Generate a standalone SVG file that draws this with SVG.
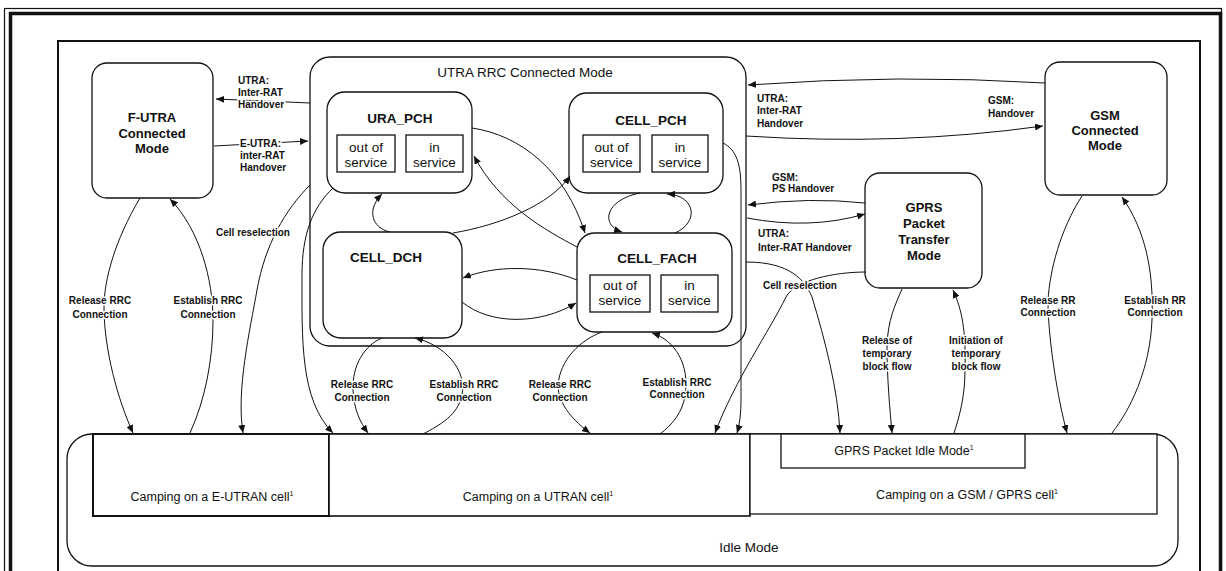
<svg xmlns="http://www.w3.org/2000/svg" width="1226" height="571" viewBox="0 0 1226 571">
<defs>
<marker id="arr" markerUnits="userSpaceOnUse" markerWidth="9" markerHeight="7" refX="8" refY="3.5" orient="auto"><path d="M0,0 L8,3.5 L0,7 z" fill="#111"/></marker>
<style>
text{font-family:"Liberation Sans",Arial,sans-serif;fill:#111}
.box{fill:#fff;stroke:#111;stroke-width:1.3}
.sub{fill:#fff;stroke:#111;stroke-width:1.3}
.ttl{font-size:13.5px;font-weight:bold;text-anchor:middle}
.big{font-size:13px;font-weight:bold;text-anchor:middle}
.reg{font-size:13.5px;text-anchor:middle}
.cmp{font-size:12.5px;text-anchor:middle}
.lbl{font-size:10px;font-weight:bold;stroke:#fff;stroke-width:3;paint-order:stroke;stroke-linejoin:round}
.c{text-anchor:middle}
.con path{fill:none;stroke:#111;stroke-width:1;marker-end:url(#arr)}
.sup{font-size:7px}
</style>
</defs>
<rect width="1226" height="571" fill="#fff"/>
<g id="frame" fill="none" stroke="#111">
<rect x="4.5" y="8.5" width="1217" height="620" stroke-width="1.2"/>
<rect x="10.5" y="13.5" width="1210" height="620" stroke-width="3.5"/>
<rect x="58" y="41" width="1142" height="620" stroke-width="2"/>
</g>
<g id="idle">
<rect class="box" x="67" y="434" width="1111" height="132" rx="25"/>
<text class="reg" x="749" y="552">Idle Mode</text>
</g>
<g id="camp-eutran">
<rect class="box" x="93" y="434" width="236" height="82" style="stroke-width:2"/>
<text class="cmp" x="212" y="501">Camping on a E-UTRAN cell<tspan class="sup" dy="-5">1</tspan></text>
</g>
<g id="camp-utran">
<rect class="box" x="329" y="434" width="421" height="82" style="stroke-width:1.6"/>
<text class="cmp" x="538" y="501">Camping on a UTRAN cell<tspan class="sup" dy="-5">1</tspan></text>
</g>
<g id="camp-gsm">
<rect class="box" x="750" y="434" width="407" height="80"/>
<text class="cmp" x="967" y="499">Camping on a GSM / GPRS cell<tspan class="sup" dy="-5">1</tspan></text>
</g>
<g id="gprs-idle">
<rect class="box" x="781" y="434" width="244" height="34"/>
<text class="cmp" x="904" y="455">GPRS Packet Idle Mode<tspan class="sup" dy="-5">1</tspan></text>
</g>
<g id="utra-rrc">
<rect class="box" x="310" y="57" width="436" height="289" rx="20"/>
<text class="reg" x="525" y="77">UTRA RRC Connected Mode</text>
</g>
<g id="ura-pch">
<rect class="box" x="327" y="92" width="145" height="101" rx="18"/>
<text class="ttl" x="400" y="123">URA_PCH</text>
<rect class="sub" x="337" y="135" width="58" height="37"/>
<rect class="sub" x="406" y="135" width="57" height="37"/>
<text class="reg" x="366" y="152">out of</text><text class="reg" x="366" y="167">service</text>
<text class="reg" x="434.5" y="152">in</text><text class="reg" x="434.5" y="167">service</text>
</g>
<g id="cell-pch">
<rect class="box" x="569" y="93" width="154" height="100" rx="18"/>
<text class="ttl" x="651" y="125">CELL_PCH</text>
<rect class="sub" x="583" y="135" width="57" height="37"/>
<rect class="sub" x="652" y="135" width="56" height="37"/>
<text class="reg" x="611.5" y="152">out of</text><text class="reg" x="611.5" y="167">service</text>
<text class="reg" x="680" y="152">in</text><text class="reg" x="680" y="167">service</text>
</g>
<g id="cell-dch">
<rect class="box" x="323" y="232" width="139" height="106" rx="18"/>
<text class="ttl" x="386" y="262">CELL_DCH</text>
</g>
<g id="cell-fach">
<rect class="box" x="577" y="233" width="155" height="99" rx="18"/>
<text class="ttl" x="657" y="263">CELL_FACH</text>
<rect class="sub" x="590" y="275" width="60" height="37"/>
<rect class="sub" x="661" y="275" width="57" height="37"/>
<text class="reg" x="620" y="290">out of</text><text class="reg" x="620" y="305">service</text>
<text class="reg" x="689.5" y="290">in</text><text class="reg" x="689.5" y="305">service</text>
</g>
<g id="eutra">
<rect class="box" x="92" y="63" width="121" height="135" rx="15"/>
<text class="big" x="152" y="122">F-UTRA</text>
<text class="big" x="152" y="138">Connected</text>
<text class="big" x="152" y="153">Mode</text>
</g>
<g id="gsm">
<rect class="box" x="1045" y="62" width="122" height="133" rx="15"/>
<text class="big" x="1105" y="120">GSM</text>
<text class="big" x="1105" y="135">Connected</text>
<text class="big" x="1105" y="150">Mode</text>
</g>
<g id="gprs">
<rect class="box" x="865" y="173" width="117" height="115" rx="15"/>
<text class="big" x="924" y="212">GPRS</text>
<text class="big" x="924" y="228">Packet</text>
<text class="big" x="924" y="244">Transfer</text>
<text class="big" x="924" y="260">Mode</text>
</g>
<g id="connectors" class="con">
<path d="M310,103 L216,99"/>
<path d="M214,146 L308,141"/>
<path d="M1045,83 Q900,74 748,85"/>
<path d="M746,136 Q900,146 1043,126"/>
<path d="M865,203 Q810,197 748,205"/>
<path d="M747,218 Q810,230 865,214"/>
<path d="M746,262 C790,262 805,280 812,297 C825,340 838,390 840,433"/>
<path d="M866,272 C835,272 795,280 786,297 C770,330 735,380 715,433"/>
<path d="M723,143 C737,150 741,165 741,190 L741,400 Q741,420 737,433"/>
<path d="M310,185 C285,210 265,245 257,290 C250,330 236,390 243,433"/>
<path d="M333,188 C312,208 302,235 302,275 C302,340 300,400 333,433"/>
<path d="M140,198 C115,240 104,280 104,307 C104,350 118,400 133,433"/>
<path d="M190,433 C205,400 213,360 213,320 C213,280 200,230 170,199"/>
<path d="M382,338 C365,345 352,365 353,390 C354,410 360,422 368,433"/>
<path d="M423,434 C440,425 458,415 462,395 C467,370 445,345 415,338"/>
<path d="M602,332 C580,340 560,360 558,385 C558,405 575,422 590,433"/>
<path d="M660,434 C672,425 683,412 685,395 C690,365 675,340 652,333"/>
<path d="M1082,196 C1060,230 1050,270 1048,300 C1048,340 1058,400 1067,433"/>
<path d="M1112,433 C1130,410 1150,370 1152,320 C1154,270 1145,230 1122,197"/>
<path d="M902,289 C895,305 888,320 887,345 C887,380 890,410 892,433"/>
<path d="M954,433 C960,415 965,395 965,370 C966,330 962,310 953,290"/>
<path d="M472,128 C520,135 565,170 585,233"/>
<path d="M577,247 C545,230 500,205 474,156"/>
<path d="M390,232 C372,228 366,210 382,194"/>
<path d="M453,233 C500,225 550,205 570,176"/>
<path d="M577,280 C540,265 495,265 463,278"/>
<path d="M462,302 C490,325 540,325 576,303"/>
<path d="M640,193 C605,200 600,225 622,232"/>
<path d="M675,233 C700,222 695,195 667,194"/>
</g>
<g id="labels">
<text class="lbl" x="238" y="84">UTRA:</text>
<text class="lbl" x="238" y="96">Inter-RAT</text>
<text class="lbl" x="238" y="108">Handover</text>
<text class="lbl" x="240" y="147">E-UTRA:</text>
<text class="lbl" x="240" y="159">inter-RAT</text>
<text class="lbl" x="240" y="171">Handover</text>
<text class="lbl" x="757" y="102">UTRA:</text>
<text class="lbl" x="757" y="114">Inter-RAT</text>
<text class="lbl" x="757" y="127">Handover</text>
<text class="lbl" x="988" y="104">GSM:</text>
<text class="lbl" x="988" y="117">Handover</text>
<text class="lbl" x="772" y="181">GSM:</text>
<text class="lbl" x="772" y="192">PS Handover</text>
<text class="lbl" x="758" y="237">UTRA:</text>
<text class="lbl" x="758" y="251">Inter-RAT Handover</text>
<text class="lbl c" x="800" y="289">Cell reselection</text>
<text class="lbl c" x="253" y="236">Cell reselection</text>
<text class="lbl c" x="100" y="304">Release RRC</text>
<text class="lbl c" x="100" y="318">Connection</text>
<text class="lbl c" x="208" y="304">Establish RRC</text>
<text class="lbl c" x="208" y="318">Connection</text>
<text class="lbl c" x="362" y="388">Release RRC</text>
<text class="lbl c" x="362" y="401">Connection</text>
<text class="lbl c" x="464" y="388">Establish RRC</text>
<text class="lbl c" x="464" y="401">Connection</text>
<text class="lbl c" x="560" y="388">Release RRC</text>
<text class="lbl c" x="560" y="401">Connection</text>
<text class="lbl c" x="677" y="386">Establish RRC</text>
<text class="lbl c" x="677" y="398">Connection</text>
<text class="lbl c" x="1048" y="304">Release RR</text>
<text class="lbl c" x="1048" y="316">Connection</text>
<text class="lbl c" x="1155" y="304">Establish RR</text>
<text class="lbl c" x="1155" y="316">Connection</text>
<text class="lbl c" x="887" y="344">Release of</text>
<text class="lbl c" x="887" y="357">temporary</text>
<text class="lbl c" x="887" y="370">block flow</text>
<text class="lbl c" x="976" y="344">Initiation of</text>
<text class="lbl c" x="976" y="357">temporary</text>
<text class="lbl c" x="976" y="370">block flow</text>
</g>
</svg>
